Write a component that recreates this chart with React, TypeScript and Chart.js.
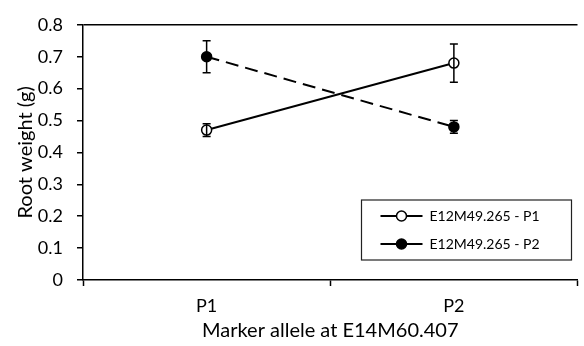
import React, { useEffect, useRef } from "react";
import { Chart, registerables } from "chart.js";

Chart.register(...registerables);

const categories = ["P1", "P2"];
const seriesLabels = ["E12M49.265 - P1", "E12M49.265 - P2"];
const seriesP1 = [0.47, 0.68];
const seriesP2 = [0.7, 0.48];
const errorsP1 = [0.02, 0.06];
const errorsP2 = [0.05, 0.02];
const yTicks = [0, 0.1, 0.2, 0.3, 0.4, 0.5, 0.6, 0.7, 0.8];
const xTitle = "Marker allele at E14M60.407";
const yTitle = "Root weight (g)";

const FONT = "Lato, 'Open Sans', sans-serif";

const errorBarPlugin = {
  id: "errorBars",
  afterDatasetsDraw(chart: any) {
    const ctx = chart.ctx;
    const yScale = chart.scales.y;
    const errs = [errorsP1, errorsP2];
    const vals = [seriesP1, seriesP2];
    ctx.save();
    ctx.strokeStyle = "#000";
    ctx.lineWidth = 1.5;
    chart.data.datasets.forEach((_: any, di: number) => {
      const meta = chart.getDatasetMeta(di);
      meta.data.forEach((pt: any, i: number) => {
        const x = pt.x;
        const yTop = yScale.getPixelForValue(vals[di][i] + errs[di][i]);
        const yBot = yScale.getPixelForValue(vals[di][i] - errs[di][i]);
        ctx.beginPath();
        ctx.moveTo(x, yTop);
        ctx.lineTo(x, yBot);
        ctx.moveTo(x - 4, yTop);
        ctx.lineTo(x + 4, yTop);
        ctx.moveTo(x - 4, yBot);
        ctx.lineTo(x + 4, yBot);
        ctx.stroke();
      });
    });
    ctx.restore();
  },
};

const boxLegendPlugin = {
  id: "boxLegend",
  afterDraw(chart: any) {
    const ctx = chart.ctx;
    const area = chart.chartArea;
    const right = area.right - 6;
    const left = right - 210;
    const top = area.bottom - 80;
    const bottom = top + 60;
    ctx.save();
    ctx.fillStyle = "#fff";
    ctx.fillRect(left, top, right - left, bottom - top);
    ctx.strokeStyle = "#222";
    ctx.lineWidth = 1.2;
    ctx.strokeRect(left, top, right - left, bottom - top);
    chart.data.datasets.forEach((ds: any, i: number) => {
      const y = top + 16 + i * 28;
      const x0 = left + 19;
      const x1 = left + 61;
      const xm = (x0 + x1) / 2;
      ctx.strokeStyle = "#000";
      ctx.lineWidth = 2;
      ctx.beginPath();
      ctx.moveTo(x0, y);
      ctx.lineTo(x1, y);
      ctx.stroke();
      ctx.beginPath();
      ctx.arc(xm, y, 5, 0, Math.PI * 2);
      ctx.fillStyle = ds.pointBackgroundColor;
      ctx.fill();
      ctx.lineWidth = 1.5;
      ctx.stroke();
      ctx.fillStyle = "#000";
      ctx.font = `14px ${FONT}`;
      ctx.textBaseline = "middle";
      ctx.textAlign = "left";
      ctx.fillText(ds.label, x1 + 7, y);
    });
    ctx.restore();
  },
};

export default function App() {
  const ref = useRef<HTMLCanvasElement | null>(null);
  useEffect(() => {
    document.body.style.margin = "0";
    const canvas = ref.current!;
    const chart = new Chart(canvas, {
      type: "line",
      data: {
        labels: categories,
        datasets: [
          {
            label: seriesLabels[0],
            data: seriesP1,
            borderColor: "#000",
            borderWidth: 2,
            pointRadius: 5,
            pointBackgroundColor: "#fff",
            pointBorderColor: "#000",
            pointBorderWidth: 1.5,
            fill: false,
          },
          {
            label: seriesLabels[1],
            data: seriesP2,
            borderColor: "#000",
            borderWidth: 2,
            borderDash: [13, 7],
            pointRadius: 5,
            pointBackgroundColor: "#000",
            pointBorderColor: "#000",
            pointBorderWidth: 1.5,
            fill: false,
          },
        ],
      },
      options: {
        animation: false,
        responsive: false,
        devicePixelRatio: 1,
        layout: { padding: { top: 16, left: 0, right: 0, bottom: 3 } },
        plugins: { legend: { display: false }, tooltip: { enabled: false } },
        scales: {
          x: {
            type: "category",
            offset: true,
            grid: {
              offset: true,
              drawOnChartArea: false,
              drawTicks: true,
              tickLength: 6,
              tickColor: "#000",
              tickWidth: 1.5,
            },
            border: { display: true, color: "#000", width: 1.5 },
            ticks: { color: "#000", font: { family: FONT, size: 18 }, padding: 9 },
            title: {
              display: true,
              text: xTitle,
              color: "#000",
              font: { family: FONT, size: 20 },
              padding: { top: 0, bottom: 0 },
            },
            afterFit: (s: any) => {
              s.height = 63;
            },
          },
          y: {
            min: 0,
            max: 0.8,
            afterBuildTicks: (s: any) => {
              s.ticks = yTicks.map((v) => ({ value: v }));
            },
            grid: {
              color: (c: any) => (c.tick && c.tick.value === 0.8 ? "#000" : "rgba(0,0,0,0)"),
              lineWidth: 1.5,
              drawTicks: true,
              tickLength: 6,
              tickColor: "#000",
              tickWidth: 1.5,
            },
            border: { display: true, color: "#000", width: 1.5 },
            ticks: {
              color: "#000",
              font: { family: FONT, size: 18 },
              padding: 14,
              callback: (v: any) => String(Math.round(Number(v) * 10) / 10),
            },
            title: {
              display: true,
              text: yTitle,
              color: "#000",
              font: { family: FONT, size: 20 },
              padding: { top: 14, bottom: 0 },
            },
            afterFit: (s: any) => {
              s.width = 83;
            },
          },
        },
      },
      plugins: [errorBarPlugin, boxLegendPlugin],
    });
    return () => chart.destroy();
  }, []);
  return (
    <div style={{ width: 584, height: 346 }}>
      <canvas ref={ref} width={584} height={346} style={{ display: "block" }} />
    </div>
  );
}
